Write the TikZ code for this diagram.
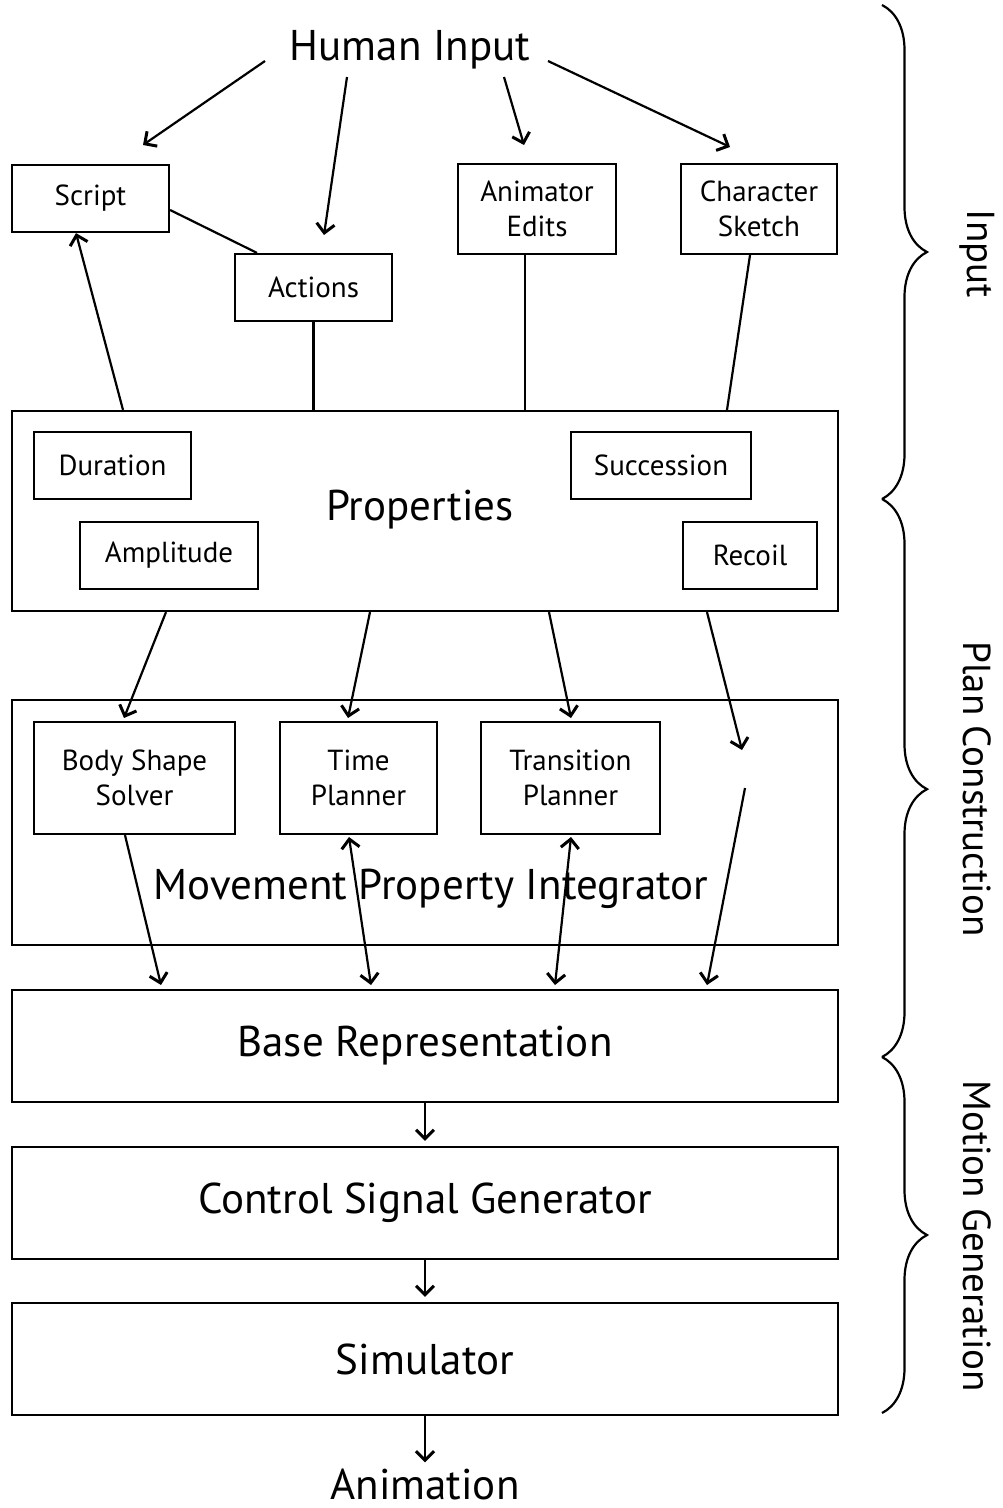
\documentclass[tikz,border=0pt]{standalone}
\usepackage{fontspec}
\setmainfont{PT Sans}
\usepackage{tikz}
\usetikzlibrary{arrows.meta,decorations.pathreplacing}

\tikzset{
  box/.style={draw, line width=2.2pt, inner sep=0pt, align=center,
    font=\fontsize{29}{35}\selectfont},
  bigtext/.style={font=\fontsize{43}{50}\selectfont, inner sep=0pt},
  sidetext/.style={font=\fontsize{39}{45}\selectfont, inner sep=0pt, rotate=-90},
  link/.style={line width=2.2pt},
  arr/.style={link, -{Straight Barb[length=9pt,width=18pt,line width=3pt]}},
  dblarr/.style={link, {Straight Barb[length=9pt,width=18pt,line width=3pt]}-{Straight Barb[length=9pt,width=18pt,line width=3pt]}},
  stage/.style={line width=2.2pt, decorate, decoration={brace, amplitude=45pt}}
}

\begin{document}
\begin{tikzpicture}[x=1pt,y=-1pt]
  \useasboundingbox (0,0) rectangle (1003,1508);

  % input
  \node[bigtext] (hinput) at (410,50) {Human Input};
  \node[box, minimum width=157, minimum height=67] (script) at (90.5,198.5) {Script};
  \node[box, minimum width=157, minimum height=67] (actions) at (313.5,287.5) {Actions};
  \node[box, minimum width=158, minimum height=90] (edits) at (537,209) {Animator\\Edits};
  \node[box, minimum width=156, minimum height=90] (sketch) at (759,209) {Character\\Sketch};

  % properties
  \node[box, minimum width=826, minimum height=200] (props) at (425,511) {};
  \node[bigtext] (propslbl) at (420,510) {Properties};
  \node[box, minimum width=157, minimum height=67] (dur) at (112.5,465.5) {Duration};
  \node[box, minimum width=180, minimum height=67] (succ) at (661,465.5) {Succession};
  \node[box, minimum width=178, minimum height=67] (ampl) at (169,555.5) {Amplitude};
  \node[box, minimum width=134, minimum height=67] (recoil) at (750,555.5) {Recoil};

  % movement property integrator
  \node[box, minimum width=826, minimum height=245] (mpi) at (425,822.5) {};
  \node[bigtext] (mpilbl) at (431,889) {Movement Property Integrator};
  \node[box, minimum width=201, minimum height=112] (body) at (134.5,778) {Body Shape\\Solver};
  \node[box, minimum width=157, minimum height=112] (time) at (358.5,778) {Time\\Planner};
  \node[box, minimum width=179, minimum height=112] (trans) at (570.5,778) {Transition\\Planner};

  % generation chain
  \node[box, bigtext, minimum width=826, minimum height=112] (base) at (425,1046) {Base Representation};
  \node[box, bigtext, minimum width=826, minimum height=112] (ctrl) at (425,1203) {Control Signal Generator};
  \node[box, bigtext, minimum width=826, minimum height=112] (sim) at (425,1359) {Simulator};
  \node[bigtext] (anim) at (425,1484) {Animation};

  % free ends of the split arrows
  \coordinate (hs) at (265,61);
  \coordinate (ha) at (347,77);
  \coordinate (he) at (504,77);
  \coordinate (hc) at (548,61);
  \coordinate (rtop) at (742,750);
  \coordinate (rbot) at (745,788);

  \draw[arr] (hs) -- (143,145);
  \draw[arr] (ha) -- (324,235);
  \draw[arr] (he) -- (524,145);
  \draw[arr] (hc) -- (730,147);

  \draw[arr] (props.north -| 123,0) -- (script.south -| 76,0);
  \draw[link] (script.east |- 0,210) -- (actions.north -| 257,0);
  \draw[link] (actions.south) -- (props.north -| actions.south);
  \draw[link] (edits.south -| 525,0) -- (props.north -| 525,0);
  \draw[link] (sketch.south -| 750,0) -- (props.north -| 727,0);

  \draw[arr] (props.south -| 166,0) -- (124,718);
  \draw[arr] (props.south -| 370,0) -- (348,718);
  \draw[arr] (props.south -| 549,0) -- (571,718);
  \draw[arr] (props.south -| 707,0) -- (rtop);

  \draw[arr] (body.south -| 125,0) -- (161,985);
  \draw[dblarr] (349,837) -- (371,985);
  \draw[dblarr] (571,837) -- (555,985);
  \draw[arr] (rbot) -- (707,985);

  \draw[arr, shorten >=5pt] (base) -- (ctrl);
  \draw[arr, shorten >=5pt] (ctrl) -- (sim);
  \draw[arr, shorten >=6pt] (sim) -- (anim);

  % stages
  \draw[stage] (882,5) -- (882,499);
  \draw[stage, decoration={aspect=0.52}] (882,499) -- (882,1057);
  \draw[stage] (882,1057) -- (882,1413);
  \node[sidetext] (lblin) at (977,254) {Input};
  \node[sidetext] (lblplan) at (977,789) {Plan Construction};
  \node[sidetext] (lblmot) at (977,1236) {Motion Generation};
\end{tikzpicture}
\end{document}
